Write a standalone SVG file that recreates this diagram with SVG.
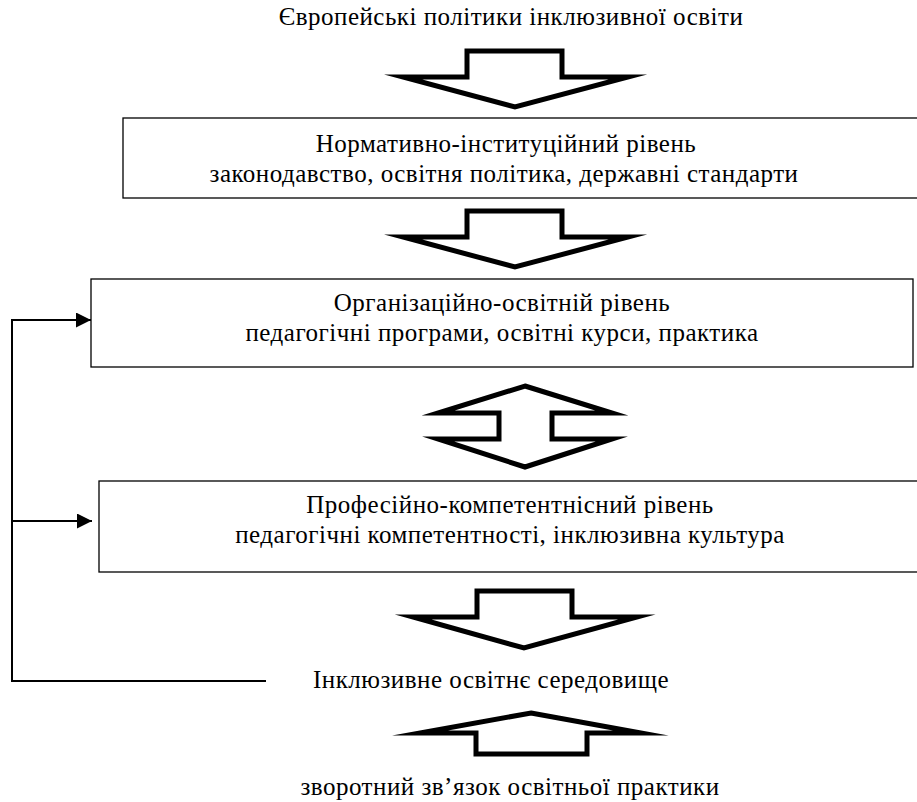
<svg xmlns="http://www.w3.org/2000/svg" width="917" height="802" viewBox="0 0 917 802">
<defs>
<style>
.t{font-family:"Liberation Serif","Times New Roman",serif;font-size:25px;letter-spacing:0.5px;fill:#000;text-anchor:middle}
.box{fill:#fff;stroke:#000;stroke-width:1.3}
.blk{fill:#fff;stroke:#000;stroke-width:5;stroke-linejoin:miter;stroke-miterlimit:12}
.fb{fill:none;stroke:#000;stroke-width:2}
</style>
<marker id="ah" markerWidth="15" markerHeight="15" refX="15" refY="7.5" orient="auto" markerUnits="userSpaceOnUse">
<path d="M0,0 L15,7.5 L0,15 Z" fill="#000"/>
</marker>
</defs>
<rect width="917" height="802" fill="#fff"/>
<g id="title"><text class="t" x="511" y="25">Європейські політики інклюзивної освіти</text></g>
<g id="arrow1"><polygon class="blk" points="467,51 562,51 562,77 628,77 515,107 403,77 467,77"/></g>
<g id="box1">
<rect class="box" x="123" y="118" width="820" height="80"/>
<text class="t" x="506" y="152">Нормативно-інституційний рівень</text>
<text class="t" x="504" y="182">законодавство, освітня політика, державні стандарти</text>
</g>
<g id="arrow2"><polygon class="blk" points="467,211 562,211 562,237 628,237 515,267 403,237 467,237"/></g>
<g id="box2">
<rect class="box" x="91" y="279" width="822" height="88"/>
<text class="t" x="502" y="311">Організаційно-освітній рівень</text>
<text class="t" x="502" y="341">педагогічні програми, освітні курси, практика</text>
</g>
<g id="arrow-double"><polygon class="blk" points="525,386 612,413 552,413 552,439 612,439 525,467 438,439 499,439 499,413 438,413"/></g>
<g id="box3">
<rect class="box" x="99" y="481" width="840" height="91"/>
<text class="t" x="510" y="513">Професійно-компетентнісний рівень</text>
<text class="t" x="510" y="543">педагогічні компетентності, інклюзивна культура</text>
</g>
<g id="arrow3"><polygon class="blk" points="477,591 572,591 572,617 637,617 524,648 413,617 477,617"/></g>
<g id="environment"><text class="t" x="491" y="688">Інклюзивне освітнє середовище</text></g>
<g id="arrow4"><polygon class="blk" points="531,713 641,733 587,733 587,754 476,754 476,733 420,733"/></g>
<g id="feedback"><text class="t" x="510" y="795">зворотний зв’язок освітньої практики</text></g>
<g id="connectors">
<path class="fb" d="M266,681 H12 V320 H91" marker-end="url(#ah)"/>
<path class="fb" d="M12,521 H92" marker-end="url(#ah)"/>
</g>
</svg>
